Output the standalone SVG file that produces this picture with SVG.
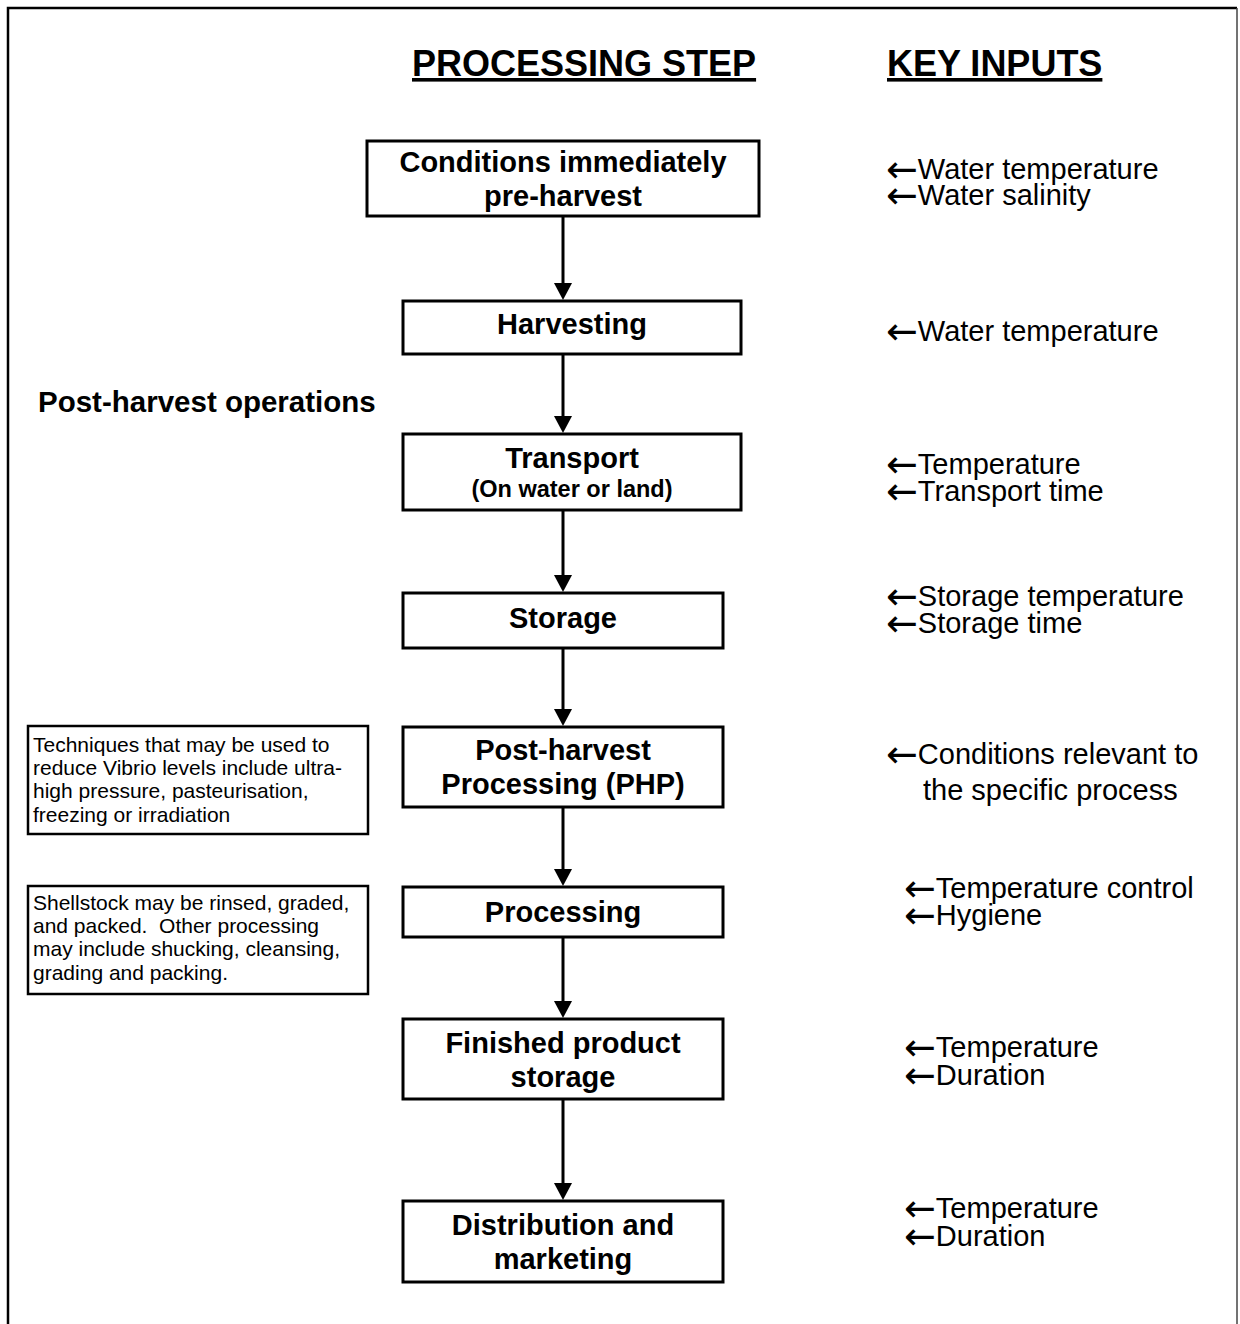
<svg xmlns="http://www.w3.org/2000/svg" width="1240" height="1324" viewBox="0 0 1240 1324">
<style>
text{font-family:"Liberation Sans",Arial,Helvetica,sans-serif;fill:#000}
.hd{font-size:36px;font-weight:bold;text-decoration:underline;text-anchor:start}
.bx{font-size:29px;font-weight:bold;text-anchor:middle}
.sm{font-size:23.5px;font-weight:bold;text-anchor:middle}
.lbl{font-size:29.5px;font-weight:bold}
.in{font-size:29px}
.ar{font-family:"DejaVu Sans",sans-serif;font-size:38px}
.nt{font-size:21px;white-space:pre}
.box{fill:#fff;stroke:#000;stroke-width:3}
.note{fill:#fff;stroke:#000;stroke-width:2.5}
</style>
<rect width="1240" height="1324" fill="#fff"/>
<g id="frame">
<path d="M8,1324 V8 H1237" fill="none" stroke="#000" stroke-width="2.5"/>
<path d="M1237,8 V1324" fill="none" stroke="#444" stroke-width="1.5"/>
</g>
<g id="headings">
<text class="hd" x="412" y="76">PROCESSING STEP</text>
<text class="hd" x="887" y="76">KEY INPUTS</text>
</g>
<g id="connectors">
<path d="M563,217 V290" stroke="#000" stroke-width="3"/>
<path d="M563,354 V423" stroke="#000" stroke-width="3"/>
<path d="M563,510 V582" stroke="#000" stroke-width="3"/>
<path d="M563,648 V716" stroke="#000" stroke-width="3"/>
<path d="M563,807 V876" stroke="#000" stroke-width="3"/>
<path d="M563,937 V1008" stroke="#000" stroke-width="3"/>
<path d="M563,1099 V1190" stroke="#000" stroke-width="3"/>
<polygon points="554,283 572,283 563,300"/>
<polygon points="554,416 572,416 563,433"/>
<polygon points="554,575 572,575 563,592"/>
<polygon points="554,709 572,709 563,726"/>
<polygon points="554,869 572,869 563,886"/>
<polygon points="554,1001 572,1001 563,1018"/>
<polygon points="554,1183 572,1183 563,1200"/>
</g>
<g id="n1">
<rect class="box" x="367" y="141" width="392" height="75"/>
<text class="bx" x="563" y="172">Conditions immediately</text>
<text class="bx" x="563" y="206">pre-harvest</text>
</g>
<g id="n2">
<rect class="box" x="403" y="301" width="338" height="53"/>
<text class="bx" x="572" y="334">Harvesting</text>
</g>
<g id="n3">
<rect class="box" x="403" y="434" width="338" height="76"/>
<text class="bx" x="572" y="468">Transport</text>
<text class="sm" x="572" y="497">(On water or land)</text>
</g>
<g id="n4">
<rect class="box" x="403" y="593" width="320" height="55"/>
<text class="bx" x="563" y="628">Storage</text>
</g>
<g id="n5">
<rect class="box" x="403" y="727" width="320" height="80"/>
<text class="bx" x="563" y="760">Post-harvest</text>
<text class="bx" x="563" y="794">Processing (PHP)</text>
</g>
<g id="n6">
<rect class="box" x="403" y="887" width="320" height="50"/>
<text class="bx" x="563" y="922">Processing</text>
</g>
<g id="n7">
<rect class="box" x="403" y="1019" width="320" height="80"/>
<text class="bx" x="563" y="1053">Finished product</text>
<text class="bx" x="563" y="1087">storage</text>
</g>
<g id="n8">
<rect class="box" x="403" y="1201" width="320" height="81"/>
<text class="bx" x="563" y="1235">Distribution and</text>
<text class="bx" x="563" y="1269">marketing</text>
</g>
<g id="post-harvest-label">
<text class="lbl" x="38" y="412">Post-harvest operations</text>
</g>
<g id="note-php">
<rect class="note" x="28" y="726" width="340" height="108"/>
<text class="nt" x="33" y="752">Techniques that may be used to</text>
<text class="nt" x="33" y="775">reduce Vibrio levels include ultra-</text>
<text class="nt" x="33" y="798">high pressure, pasteurisation,</text>
<text class="nt" x="33" y="822">freezing or irradiation</text>
</g>
<g id="note-processing">
<rect class="note" x="28" y="886" width="340" height="108"/>
<text class="nt" x="33" y="910">Shellstock may be rinsed, graded,</text>
<text class="nt" x="33" y="933">and packed.  Other processing</text>
<text class="nt" x="33" y="956">may include shucking, cleansing,</text>
<text class="nt" x="33" y="980">grading and packing.</text>
</g>
<g id="inputs">
<text class="in" x="886" y="179"><tspan class="ar" dy="3">←</tspan><tspan dy="-3">Water temperature</tspan></text>
<text class="in" x="886" y="205"><tspan class="ar" dy="3">←</tspan><tspan dy="-3">Water salinity</tspan></text>
<text class="in" x="886" y="341"><tspan class="ar" dy="3">←</tspan><tspan dy="-3">Water temperature</tspan></text>
<text class="in" x="886" y="474"><tspan class="ar" dy="3">←</tspan><tspan dy="-3">Temperature</tspan></text>
<text class="in" x="886" y="501"><tspan class="ar" dy="3">←</tspan><tspan dy="-3">Transport time</tspan></text>
<text class="in" x="886" y="606"><tspan class="ar" dy="3">←</tspan><tspan dy="-3">Storage temperature</tspan></text>
<text class="in" x="886" y="633"><tspan class="ar" dy="3">←</tspan><tspan dy="-3">Storage time</tspan></text>
<text class="in" x="886" y="764"><tspan class="ar" dy="3">←</tspan><tspan dy="-3">Conditions relevant to</tspan></text>
<text class="in" x="923" y="800">the specific process</text>
<text class="in" x="904" y="898"><tspan class="ar" dy="3">←</tspan><tspan dy="-3">Temperature control</tspan></text>
<text class="in" x="904" y="925"><tspan class="ar" dy="3">←</tspan><tspan dy="-3">Hygiene</tspan></text>
<text class="in" x="904" y="1057"><tspan class="ar" dy="3">←</tspan><tspan dy="-3">Temperature</tspan></text>
<text class="in" x="904" y="1085"><tspan class="ar" dy="3">←</tspan><tspan dy="-3">Duration</tspan></text>
<text class="in" x="904" y="1218"><tspan class="ar" dy="3">←</tspan><tspan dy="-3">Temperature</tspan></text>
<text class="in" x="904" y="1246"><tspan class="ar" dy="3">←</tspan><tspan dy="-3">Duration</tspan></text>
</g>
</svg>
